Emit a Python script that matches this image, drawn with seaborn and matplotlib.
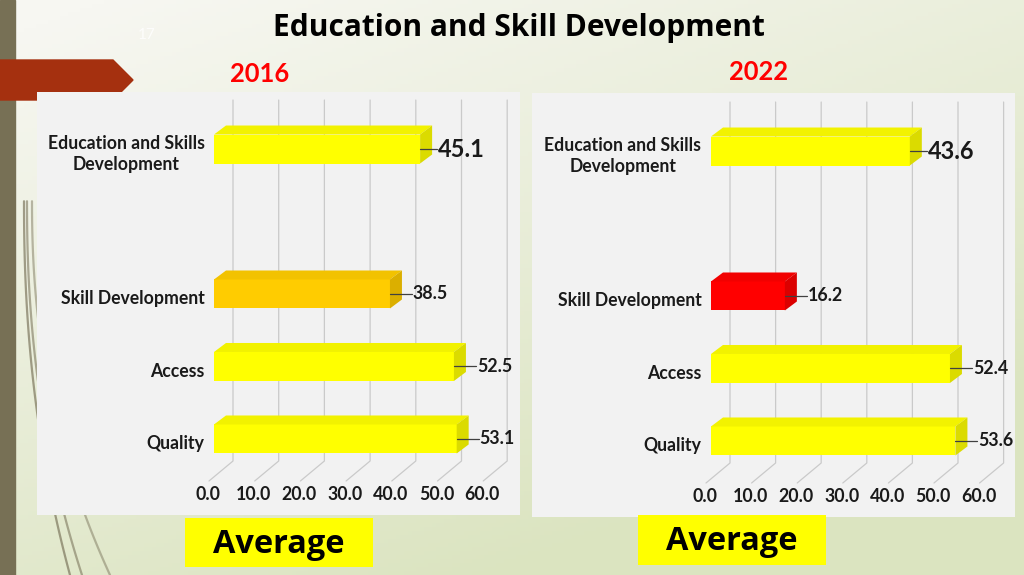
import numpy as np
import pandas as pd
import matplotlib
matplotlib.use("Agg")
import matplotlib.pyplot as plt
import seaborn as sns
from matplotlib.patches import Polygon, Rectangle
from matplotlib.lines import Line2D
from matplotlib.transforms import ScaledTranslation, blended_transform_factory

# ---------------- data ----------------
categories = ["Education and Skills\nDevelopment", " ", "Skill Development", "Access", "Quality"]
bar_categories = ["Education and Skills\nDevelopment", "Skill Development", "Access", "Quality"]
values_2016 = [45.1, 38.5, 52.5, 53.1]
values_2022 = [43.6, 16.2, 52.4, 53.6]
colors_2016 = ["#ffff00", "#ffcc00", "#ffff00", "#ffff00"]
colors_2022 = ["#ffff00", "#ff0000", "#ffff00", "#ffff00"]
big_label = [True, False, False, False]
x_ticks = [0, 10, 20, 30, 40, 50, 60]
x_tick_labels = ["0.0", "10.0", "20.0", "30.0", "40.0", "50.0", "60.0"]
title = "Education and Skill Development"
panel_years = ["2016", "2022"]
box_text = "Average"

# ---------------- style ----------------
sns.set_theme(style="white")
plt.rcParams["font.family"] = ["Lato", "DejaVu Sans"]

W, H = 1024, 575
fig = plt.figure(figsize=(W / 100, H / 100), dpi=100)


def frect(x0, y0, x1, y1):
    return [x0 / W, 1 - y1 / H, (x1 - x0) / W, (y1 - y0) / H]


# background gradient
bg = fig.add_axes([0, 0, 1, 1], zorder=-10)
gx, gy = np.meshgrid(np.linspace(0, 1, 256), np.linspace(0, 1, 144))
t = np.clip(0.5 * gx + 0.8 * gy - 0.05, 0, 1)
c0 = np.array([247, 247, 242]) / 255
c1 = np.array([219, 228, 192]) / 255
img = c0[None, None, :] * (1 - t[..., None]) + c1[None, None, :] * t[..., None]
bg.imshow(img, aspect="auto", extent=[0, 1, 0, 1], origin="upper")
bg.set_xlim(0, 1)
bg.set_ylim(0, 1)
bg.axis("off")

# left stripe and decorative curves
bg.add_patch(Rectangle((0, 0), 15 / W, 1, color="#777055", zorder=2))
for sx, ex, a in [(70, 24, 0.7), (82, 27, 0.6), (110, 32, 0.5)]:
    yy = np.linspace(0.35, 1, 100)
    xx = (ex + (sx - ex) * ((yy - 0.35) / 0.65) ** 2.2) / W
    bg.plot(xx, 1 - yy, color="#7d775e", lw=1.6, alpha=a, zorder=1)

# red arrow banner
bg.add_patch(Polygon([(0, 1 - 60 / H), (113 / W, 1 - 60 / H), (133 / W, 1 - 80 / H),
                      (113 / W, 1 - 100 / H), (0, 1 - 100 / H)],
                     closed=True, color="#a5300f", zorder=3))

# panels
for (x0, y0, x1, y1) in [(37, 92, 520, 515), (532, 93, 1015, 517)]:
    r = Rectangle((x0 / W, 1 - y1 / H), (x1 - x0) / W, (y1 - y0) / H,
                  transform=fig.transFigure, facecolor="#f2f2f2", edgecolor="none", zorder=-1)
    fig.add_artist(r)


def shade(c, f):
    rgb = np.array(matplotlib.colors.to_rgb(c))
    return tuple(np.clip(rgb * f, 0, 1))


def draw_panel(ax, values, colors):
    df = pd.DataFrame({"cat": bar_categories, "val": values})
    sns.barplot(data=df, x="val", y="cat", hue="cat", order=categories,
                hue_order=bar_categories, palette=dict(zip(bar_categories, colors)),
                orient="h", width=0.4, ax=ax, legend=False, saturation=1,
                edgecolor="none", zorder=2)
    ax.set_xlim(0, 60)
    ax.set_ylim(4.359, -0.676)
    ax.set_facecolor("none")
    for s in ax.spines.values():
        s.set_visible(False)
    ax.set_xlabel("")
    ax.set_ylabel("")
    ax.set_xticks([])
    ax.set_yticks([])

    bb = ax.get_window_extent()
    ppx = bb.width / 60.0
    ppy = bb.height / (4.359 + 0.676)

    # back-wall gridlines with floor perspective
    ytop = -0.676
    yback = 4.359 - 4 / ppy
    for tk in x_ticks:
        xb = tk + 19 / ppx
        ax.add_line(Line2D([xb, xb, xb - 24 / ppx], [ytop, yback, yback + 20 / ppy],
                           color="#cacaca", lw=0.9, zorder=0.5, clip_on=False))

    # x tick labels at front floor
    tr = blended_transform_factory(ax.transData, ax.transAxes) + \
        ScaledTranslation(-6 / 100, -30 / 100, fig.dpi_scale_trans)
    for tk, lab in zip(x_ticks, x_tick_labels):
        ax.text(tk, 0, lab, transform=tr, ha="center", va="center",
                fontsize=12.8, fontweight="bold", color="#1a1a1a")

    # category labels
    trc = ax.transData + ScaledTranslation(-9.5 / 100, -5 / 100, fig.dpi_scale_trans)
    for i, c in enumerate(categories):
        if c.strip():
            ax.text(0, i, c, transform=trc, ha="right", va="center",
                    multialignment="center", fontsize=12.7, fontweight="bold",
                    color="#1a1a1a", linespacing=1.3)

    # 3D faces + labels
    dx = 12 / ppx
    dy = 9 / ppy
    for p in list(ax.patches):
        w = p.get_width()
        if not np.isfinite(w) or w <= 0:
            continue
        x0 = p.get_x()
        yt = p.get_y()
        yb = yt + p.get_height()
        yc = (yt + yb) / 2
        fc = p.get_facecolor()
        k = int(round(yc))
        j = bar_categories.index(categories[k])
        top = Polygon([(x0, yt), (x0 + dx, yt - dy), (x0 + w + dx, yt - dy), (x0 + w, yt)],
                      closed=True, facecolor=shade(fc, 0.95), edgecolor="none", zorder=2.5)
        side = Polygon([(x0 + w, yt), (x0 + w + dx, yt - dy), (x0 + w + dx, yb - dy), (x0 + w, yb)],
                       closed=True, facecolor=shade(fc, 0.86), edgecolor="none", zorder=2.5)
        ax.add_patch(top)
        ax.add_patch(side)
        L = 17 if big_label[j] else 22
        ax.add_line(Line2D([x0 + w, x0 + w + L / ppx], [yc, yc], color="#404040",
                           lw=0.9, zorder=3, clip_on=False))
        ax.text(x0 + w + (L + 1) / ppx, yc, f"{values[j]:.1f}", ha="left", va="center",
                fontsize=17 if big_label[j] else 12.8, fontweight="bold", color="#1a1a1a",
                zorder=4, clip_on=False)


axL = fig.add_axes(frect(214, 100, 214 + 274.2, 465), zorder=1)
draw_panel(axL, values_2016, colors_2016)
axR = fig.add_axes(frect(711, 102, 711 + 273.6, 467), zorder=1)
draw_panel(axR, values_2022, colors_2022)

# texts
fig.text(519 / W, 1 - 28 / H, title, ha="center", va="center", fontsize=21.5,
         fontweight="bold", color="black", family=["Open Sans", "DejaVu Sans"])
fig.text(147 / W, 1 - 35 / H, "17", ha="center", va="center", fontsize=11,
         color="white", alpha=0.8)
fig.text(260 / W, 1 - 74 / H, panel_years[0], ha="center", va="center", fontsize=18.4,
         fontweight="bold", color="#ff0000")
fig.text(759 / W, 1 - 72 / H, panel_years[1], ha="center", va="center", fontsize=18.4,
         fontweight="bold", color="#ff0000")

for (x0, y0, x1, y1) in [(185, 518, 373, 567), (638, 515, 826, 565)]:
    fig.add_artist(Rectangle((x0 / W, 1 - y1 / H), (x1 - x0) / W, (y1 - y0) / H,
                             transform=fig.transFigure, facecolor="#ffff00",
                             edgecolor="none", zorder=2))
    fig.text((x0 + x1) / 2 / W, 1 - ((y0 + y1) / 2 + 2) / H, box_text, ha="center", va="center",
             fontsize=23.4, fontweight="bold", color="black", zorder=3,
             family=["Open Sans", "DejaVu Sans"])

fig.savefig("out.png", dpi=100)
